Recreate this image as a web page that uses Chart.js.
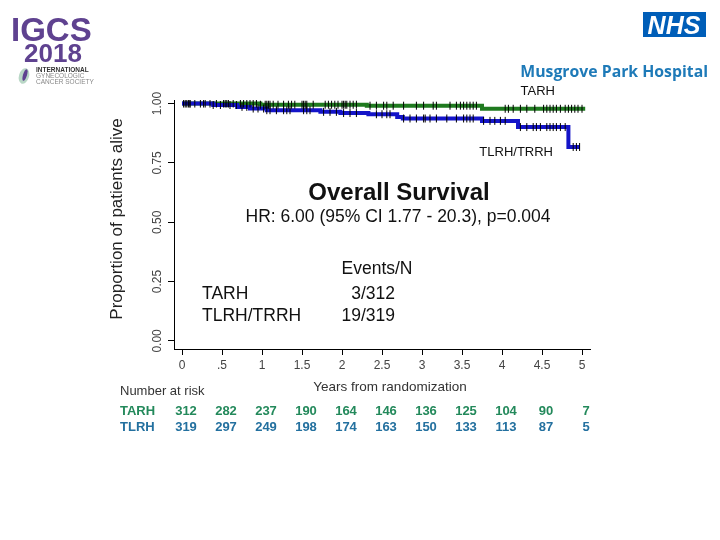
<!DOCTYPE html>
<html>
<head>
<meta charset="utf-8">
<script src="https://cdn.jsdelivr.net/npm/chart.js@4.4.0/dist/chart.umd.min.js"></script>
<style>
  body { margin: 0; background: #fff; }
  #wrap { position: relative; width: 720px; height: 540px; }
</style>
</head>
<body>
<div id="wrap"><canvas id="km" width="720" height="540"></canvas></div>
<script>
// KM steps (years, proportion alive)
var tarhTimes = [0, 0.98, 2.31, 3.75, 5.04];
var tarhSurv  = [1.0, 0.995, 0.991, 0.978, 0.978];
var tlrhTimes = [0, 0.39, 0.69, 0.85, 1.06, 1.73, 1.98, 2.33, 2.69, 2.76, 3.75, 4.2, 4.83, 4.97];
var tlrhSurv  = [1.0, 0.994, 0.986, 0.979, 0.972, 0.965, 0.96, 0.955, 0.943, 0.937, 0.927, 0.901, 0.817, 0.817];

// censoring marks (years)
var tarhCensor = [0.04, 0.06, 0.08, 0.1, 0.16, 0.23, 0.29, 0.35, 0.43, 0.52, 0.54, 0.56, 0.58, 0.64,
  0.73, 0.77, 0.81, 0.85, 0.89, 0.93, 0.98, 1.04, 1.06, 1.08, 1.1, 1.14, 1.2, 1.27, 1.33, 1.37, 1.41,
  1.5, 1.52, 1.54, 1.56, 1.64, 1.79, 1.83, 1.87, 1.91, 1.95, 2.0, 2.02, 2.04, 2.06, 2.1, 2.14, 2.18,
  2.35, 2.43, 2.52, 2.56, 2.64, 2.77, 2.93, 3.02, 3.14, 3.18, 3.35, 3.43, 3.48, 3.52, 3.56, 3.6, 3.64,
  3.68, 4.04, 4.08, 4.14, 4.23, 4.31, 4.41, 4.52, 4.56, 4.6, 4.64, 4.68, 4.73, 4.79, 4.83, 4.87, 4.91,
  4.95, 5.0];
var tlrhCensor = [0.02, 0.1, 0.27, 0.39, 0.48, 0.6, 0.68, 0.75, 0.81, 0.89, 0.95, 1.02, 1.06, 1.1,
  1.18, 1.27, 1.31, 1.35, 1.52, 1.56, 1.6, 1.77, 1.85, 1.93, 2.02, 2.1, 2.18, 2.43, 2.5, 2.56, 2.6,
  2.77, 2.85, 2.93, 3.02, 3.04, 3.1, 3.18, 3.31, 3.43, 3.52, 3.56, 3.6, 3.64, 3.77, 3.85, 3.91, 3.98,
  4.04, 4.23, 4.31, 4.39, 4.43, 4.48, 4.56, 4.6, 4.64, 4.68, 4.73, 4.79, 4.89, 4.93, 4.97];

var xTicks = [0, 0.5, 1, 1.5, 2, 2.5, 3, 3.5, 4, 4.5, 5];
var yTicks = [0, 0.25, 0.5, 0.75, 1];
var yTickLabels = ['0.00', '0.25', '0.50', '0.75', '1.00'];

var riskTimes = [0, 0.5, 1, 1.5, 2, 2.5, 3, 3.5, 4, 4.5, 5];
var riskTARH = [312, 282, 237, 190, 164, 146, 136, 125, 104, 90, 7];
var riskTLRH = [319, 297, 249, 198, 174, 163, 150, 133, 113, 87, 5];

var FONT = "'Liberation Sans', Arial, sans-serif";
var GREEN = '#1f7a1f';
var BLUE = '#1414c8';
var RISK_GREEN = '#23895b';
var RISK_BLUE = '#23709f';

function pts(ts, ss) {
  return ts.map(function (t, i) { return { x: t, y: ss[i] }; });
}
function survAt(ts, ss, t) {
  var s = ss[0];
  for (var i = 0; i < ts.length; i++) { if (ts[i] <= t) s = ss[i]; }
  return s;
}
function censorPts(cs, ts, ss) {
  return cs.map(function (t) { return { x: t, y: survAt(ts, ss, t) }; });
}

var extras = {
  id: 'extras',
  afterDraw: function (chart) {
    var c = chart.ctx;
    var xs = chart.scales.x, ys = chart.scales.y;
    c.save();

    // IGCS logo
    c.fillStyle = '#5f4290';
    c.textBaseline = 'alphabetic';
    c.textAlign = 'left';
    c.font = 'bold 33px ' + FONT;
    c.fillText('IGCS', 11, 41);
    c.font = 'bold 26px ' + FONT;
    c.fillText('2018', 24, 62);
    c.beginPath();
    c.ellipse(24, 76, 5, 8, 0.3, 0, Math.PI * 2);
    c.fillStyle = '#b9d7c6';
    c.fill();
    c.beginPath();
    c.ellipse(25, 75, 2, 6, 0.3, 0, Math.PI * 2);
    c.fillStyle = '#5f4290';
    c.fill();
    c.fillStyle = '#333';
    c.font = 'bold 6.5px ' + FONT;
    c.fillText('INTERNATIONAL', 36, 72);
    c.fillStyle = '#888';
    c.font = '6.5px ' + FONT;
    c.fillText('GYNECOLOGIC', 36, 78);
    c.fillText('CANCER SOCIETY', 36, 84);

    // NHS logo
    c.fillStyle = '#005eb8';
    c.fillRect(643, 12, 63, 25);
    c.fillStyle = '#fff';
    c.font = 'italic bold 25px ' + FONT;
    c.textAlign = 'center';
    c.fillText('NHS', 674, 34);
    c.fillStyle = '#1e7ab8';
    c.font = "bold 15.8px 'Open Sans', " + FONT;
    c.textAlign = 'right';
    c.fillText('Musgrove Park Hospital', 708, 77);

    // y tick labels, rotated
    c.fillStyle = '#444';
    c.font = '12px ' + FONT;
    c.textAlign = 'center';
    c.textBaseline = 'middle';
    yTicks.forEach(function (v, i) {
      c.save();
      c.translate(158, ys.getPixelForValue(v));
      c.rotate(-Math.PI / 2);
      c.fillText(yTickLabels[i], 0, 0);
      c.restore();
    });

    // y title
    c.save();
    c.translate(117, 219);
    c.rotate(-Math.PI / 2);
    c.fillStyle = '#222';
    c.font = '17px ' + FONT;
    c.fillText('Proportion of patients alive', 0, 0);
    c.restore();

    // x title
    c.fillStyle = '#333';
    c.font = '13.5px ' + FONT;
    c.fillText('Years from randomization', 390, 387);

    // curve labels
    c.fillStyle = '#111';
    c.font = '13px ' + FONT;
    c.textAlign = 'right';
    c.fillText('TARH', 555, 91);
    c.fillText('TLRH/TRRH', 553, 152);

    // titles
    c.textAlign = 'center';
    c.font = 'bold 24px ' + FONT;
    c.fillText('Overall Survival', 399, 193);
    c.font = '17.5px ' + FONT;
    c.fillText('HR: 6.00 (95% CI 1.77 - 20.3), p=0.004', 398, 217);

    // events box
    c.font = '17.5px ' + FONT;
    c.fillText('Events/N', 377, 269);
    c.textAlign = 'left';
    c.fillText('TARH', 202, 294);
    c.fillText('TLRH/TRRH', 202, 316);
    c.textAlign = 'right';
    c.fillText('3/312', 395, 294);
    c.fillText('19/319', 395, 316);

    // number at risk
    c.textAlign = 'left';
    c.fillStyle = '#333';
    c.font = '13px ' + FONT;
    c.fillText('Number at risk', 120, 391);
    c.font = 'bold 13px ' + FONT;
    c.fillStyle = RISK_GREEN;
    c.fillText('TARH', 120, 411);
    c.fillStyle = RISK_BLUE;
    c.fillText('TLRH', 120, 427);
    c.textAlign = 'center';
    riskTimes.forEach(function (t, i) {
      var px = xs.getPixelForValue(t) + 4;
      c.fillStyle = RISK_GREEN;
      c.fillText(String(riskTARH[i]), px, 411);
      c.fillStyle = RISK_BLUE;
      c.fillText(String(riskTLRH[i]), px, 427);
    });

    c.restore();
  }
};

var censorStyle = {
  type: 'scatter',
  showLine: false,
  pointStyle: 'line',
  rotation: 90,
  pointRadius: 4,
  pointBorderColor: '#000',
  pointBorderWidth: 1
};

var chart = new Chart(document.getElementById('km').getContext('2d'), {
  type: 'line',
  data: {
    datasets: [
      Object.assign({ label: 'TLRH censored', data: censorPts(tlrhCensor, tlrhTimes, tlrhSurv) }, censorStyle),
      Object.assign({ label: 'TARH censored', data: censorPts(tarhCensor, tarhTimes, tarhSurv) }, censorStyle),
      {
        label: 'TLRH/TRRH',
        data: pts(tlrhTimes, tlrhSurv),
        stepped: 'before',
        borderColor: BLUE,
        borderWidth: 4,
        pointRadius: 0,
        fill: false
      },
      {
        label: 'TARH',
        data: pts(tarhTimes, tarhSurv),
        stepped: 'before',
        borderColor: GREEN,
        borderWidth: 4,
        pointRadius: 0,
        fill: false
      }
    ]
  },
  options: {
    responsive: false,
    animation: false,
    events: [],
    layout: { padding: { left: 0, right: 130, top: 100, bottom: 161 } },
    plugins: { legend: { display: false }, tooltip: { enabled: false } },
    scales: {
      x: {
        type: 'linear',
        min: -0.1,
        max: 5.1,
        afterBuildTicks: function (s) { s.ticks = xTicks.map(function (v) { return { value: v }; }); },
        afterFit: function (s) { s.height = 30; },
        ticks: {
          autoSkip: false,
          maxRotation: 0,
          padding: 3,
          color: '#444',
          font: { family: FONT, size: 12 },
          callback: function (v) { return v === 0.5 ? '.5' : String(v); }
        },
        grid: { drawOnChartArea: false, tickLength: 6, color: '#000' },
        border: { display: true, color: '#000', width: 1 }
      },
      y: {
        type: 'linear',
        min: -0.034,
        max: 1.015,
        afterBuildTicks: function (s) { s.ticks = yTicks.map(function (v) { return { value: v }; }); },
        afterFit: function (s) { s.width = 174; },
        ticks: { display: false },
        grid: { drawOnChartArea: false, tickLength: 6, color: '#000' },
        border: { display: true, color: '#000', width: 1 }
      }
    }
  },
  plugins: [extras]
});
</script>
</body>
</html>
